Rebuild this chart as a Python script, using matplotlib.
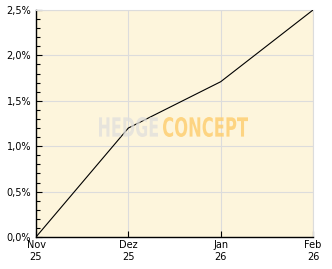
import matplotlib
matplotlib.use("Agg")
import matplotlib.pyplot as plt
from matplotlib.ticker import MultipleLocator, FuncFormatter
from matplotlib.textpath import TextPath
from matplotlib.patches import PathPatch
from matplotlib.font_manager import FontProperties
from matplotlib.transforms import Affine2D

months = ["Nov\n25", "Dez\n25", "Jan\n26", "Feb\n26"]
perf = [0.0, 1.2, 1.71, 2.5]

W, H = 332, 269
fig = plt.figure(figsize=(W / 100, H / 100), dpi=100)
ax = fig.add_axes([36 / W, 32 / H, 277 / W, 227 / H])
ax.set_facecolor("#fdf5dc")

x = list(range(len(months)))
ax.plot(x, perf, color="black", lw=0.8, zorder=3)

ax.set_xlim(0, len(months) - 1)
ax.set_ylim(0, 2.5)
ax.set_xticks(x)
ax.set_xticklabels(months, fontsize=7, linespacing=1.3)
ax.yaxis.set_major_locator(MultipleLocator(0.5))
ax.yaxis.set_minor_locator(MultipleLocator(0.1))
ax.yaxis.set_major_formatter(FuncFormatter(lambda v, p: f"{v:.1f}%".replace(".", ",")))
ax.tick_params(axis="y", labelsize=7, direction="in", length=4, width=0.8)
ax.tick_params(axis="y", which="minor", direction="in", length=3, width=0.8)
ax.tick_params(axis="x", direction="in", length=4, width=0.8, pad=2)

ax.grid(True, color="#dcdcdc", lw=0.8, zorder=1)
for s in ["top", "right"]:
    ax.spines[s].set_color("#dcdcdc")
for s in ["left", "bottom"]:
    ax.spines[s].set_color("black")
    ax.spines[s].set_linewidth(1.0)


def watermark(word, x0, x1, y_top, y_bot, color, alpha):
    # squeeze a bold text path into the given pixel box (image coords)
    tp = TextPath((0, 0), word, size=20, prop=FontProperties(family="DejaVu Sans", weight="bold"))
    ext = tp.get_extents()
    sx = (x1 - x0) / ext.width
    sy = (y_bot - y_top) / ext.height
    tr = (Affine2D().translate(-ext.x0, -ext.y0).scale(sx, sy)
          .translate(x0, H - y_bot).scale(1 / 100) + fig.dpi_scale_trans)
    fig.add_artist(PathPatch(tp, transform=tr, facecolor=color, edgecolor="none",
                             alpha=alpha, zorder=5))


watermark("HEDGE", 99, 158, 117, 137, "#e0dfdc", 0.75)
watermark("CONCEPT", 163, 248, 117, 137, "#fdcf72", 0.85)

fig.savefig("out.png", dpi=100)
